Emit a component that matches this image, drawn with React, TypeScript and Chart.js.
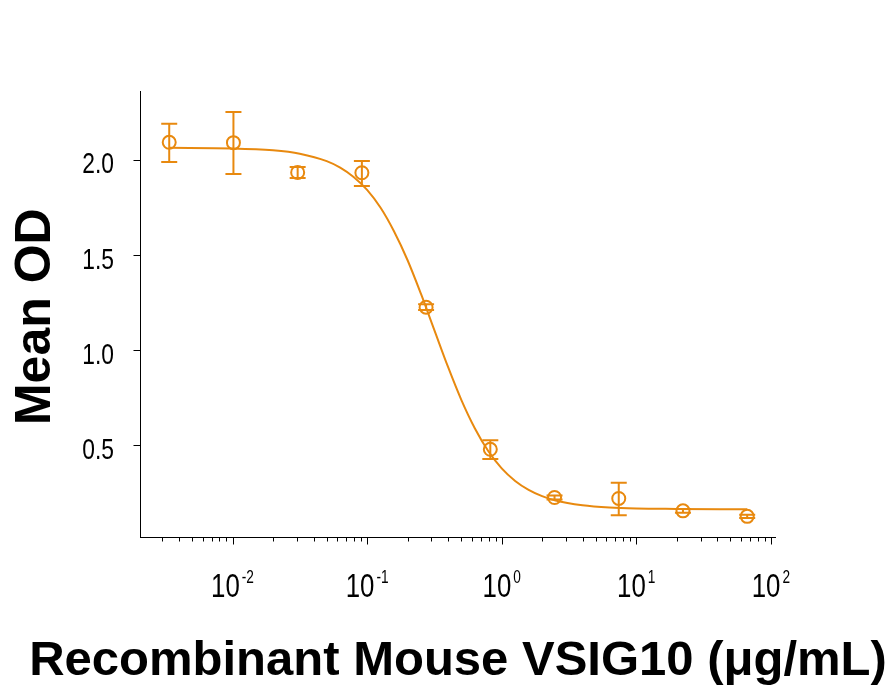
import React, { useEffect, useRef } from "react";
import { Chart, registerables } from "chart.js";

Chart.register(...registerables);

// ---- data ----
const doses = [0.003387, 0.01016, 0.03048, 0.09145, 0.2743, 0.823, 2.469, 7.407, 22.22, 66.67];
const meanOD = [2.093, 2.091, 1.935, 1.933, 1.227, 0.481, 0.228, 0.223, 0.158, 0.129];
const errHigh = [2.19, 2.252, 1.963, 1.995, 1.242, 0.529, 0.238, 0.305, 0.168, 0.137];
const errLow = [1.99, 1.926, 1.905, 1.863, 1.212, 0.43, 0.218, 0.135, 0.148, 0.121];

// fitted curve
const curveX = [0.00339, 0.01, 0.02, 0.0316, 0.0501, 0.0631, 0.0794, 0.1, 0.126, 0.158, 0.1995, 0.251, 0.316, 0.398, 0.501, 0.631, 0.794, 1.0, 1.259, 1.585, 1.995, 2.512, 3.981, 6.31, 10, 19.95, 66.67];
const curveY = [2.064, 2.061, 2.051, 2.033, 1.994, 1.96, 1.911, 1.843, 1.749, 1.627, 1.475, 1.298, 1.107, 0.916, 0.741, 0.592, 0.472, 0.381, 0.315, 0.268, 0.235, 0.212, 0.187, 0.175, 0.17, 0.168, 0.166];

// axes
const xMin = 0.002072;
const xMax = 108.2;
const yMin = 0.018;
const yMax = 2.3586;
const xMajorTicks = [0.01, 0.1, 1, 10, 100];
const xTickBase = "10";
const xTickExponents = ["-2", "-1", "0", "1", "2"];
const xMinorDecades = [0.001, 0.01, 0.1, 1, 10];
const xMinorMultipliers = [2, 3, 4, 5, 6, 7, 8, 9];
const yTickValues = [0.5, 1.0, 1.5, 2.0];
const yTickLabels = ["0.5", "1.0", "1.5", "2.0"];
const xAxisTitle = "Recombinant Mouse VSIG10 (μg/mL)";
const yAxisTitle = "Mean OD";

const ORANGE = "#E8890F";
const TICKFONT = "'Liberation Sans', Arial, sans-serif";
const BOLD = "'Liberation Sans', Arial, sans-serif";
const SQUEEZE = 0.76;

const errorBarPlugin = {
  id: "errorBars",
  afterDatasetsDraw(chart: any) {
    const { ctx, scales } = chart;
    const x = scales.x;
    const y = scales.y;
    ctx.save();
    ctx.strokeStyle = ORANGE;
    ctx.lineWidth = 2;
    doses.forEach((d, i) => {
      const px = x.getPixelForValue(d);
      const top = y.getPixelForValue(errHigh[i]);
      const bot = y.getPixelForValue(errLow[i]);
      ctx.beginPath();
      ctx.moveTo(px, top);
      ctx.lineTo(px, bot);
      ctx.moveTo(px - 8, top);
      ctx.lineTo(px + 8, top);
      ctx.moveTo(px - 8, bot);
      ctx.lineTo(px + 8, bot);
      ctx.stroke();
    });
    ctx.restore();
  },
};

function squeezedText(ctx: any, text: string, x: number, y: number, align: string) {
  ctx.save();
  ctx.translate(x, y);
  ctx.scale(SQUEEZE, 1);
  ctx.textAlign = align;
  ctx.fillText(text, 0, 0);
  ctx.restore();
}

const axisDecorPlugin = {
  id: "axisDecor",
  afterDraw(chart: any) {
    const { ctx, scales, chartArea } = chart;
    const x = scales.x;
    const y = scales.y;
    const bottom = chartArea.bottom;
    ctx.save();
    ctx.strokeStyle = "#000";
    ctx.lineWidth = 1;
    // minor ticks
    ctx.beginPath();
    xMinorDecades.forEach((dec) => {
      xMinorMultipliers.forEach((m) => {
        const v = dec * m;
        if (v < xMin || v > xMax) return;
        const px = Math.round(x.getPixelForValue(v)) + 0.5;
        ctx.moveTo(px, bottom);
        ctx.lineTo(px, bottom + 4);
      });
    });
    // major ticks
    xMajorTicks.forEach((v) => {
      const px = Math.round(x.getPixelForValue(v)) + 0.5;
      ctx.moveTo(px, bottom);
      ctx.lineTo(px, bottom + 7);
    });
    ctx.stroke();

    ctx.fillStyle = "#000";
    ctx.textBaseline = "alphabetic";

    // y tick labels
    ctx.font = `30px ${TICKFONT}`;
    yTickValues.forEach((v, i) => {
      const py = y.getPixelForValue(v);
      squeezedText(ctx, yTickLabels[i], 114, py + 13.3, "right");
    });

    // x major tick labels: 10 with superscript exponent
    const baseFont = `34px ${TICKFONT}`;
    const expFont = `18px ${TICKFONT}`;
    xMajorTicks.forEach((v, i) => {
      const px = x.getPixelForValue(v);
      ctx.font = baseFont;
      const wb = ctx.measureText(xTickBase).width * SQUEEZE;
      ctx.font = expFont;
      const we = ctx.measureText(xTickExponents[i]).width * SQUEEZE;
      const gap = 2;
      const start = px - (wb + gap + we) / 2;
      ctx.font = baseFont;
      squeezedText(ctx, xTickBase, start, 597.3, "left");
      ctx.font = expFont;
      squeezedText(ctx, xTickExponents[i], start + wb + gap, 583.3, "left");
    });

    // axis titles
    ctx.font = `bold 49px ${BOLD}`;
    ctx.textAlign = "center";
    ctx.fillText(xAxisTitle, (chartArea.left + chartArea.right) / 2, 675);

    ctx.save();
    ctx.translate(50, 316.7);
    ctx.rotate(-Math.PI / 2);
    ctx.font = `bold 50px ${BOLD}`;
    ctx.textAlign = "center";
    ctx.fillText(yAxisTitle, 0, 0);
    ctx.restore();

    ctx.restore();
  },
};

export default function App() {
  const canvasRef = useRef<HTMLCanvasElement | null>(null);

  useEffect(() => {
    if (!canvasRef.current) return;
    const chart = new Chart(canvasRef.current, {
      type: "scatter",
      data: {
        datasets: [
          {
            label: "Fit",
            data: curveX.map((cx, i) => ({ x: cx, y: curveY[i] })),
            showLine: true,
            borderColor: ORANGE,
            borderWidth: 2,
            pointRadius: 0,
            cubicInterpolationMode: "monotone",
            fill: false,
          } as any,
          {
            label: "Mean OD",
            data: doses.map((d, i) => ({ x: d, y: meanOD[i] })),
            showLine: false,
            pointStyle: "circle",
            pointRadius: 6.5,
            pointBorderWidth: 2,
            borderColor: ORANGE,
            pointBorderColor: ORANGE,
            backgroundColor: "rgba(0,0,0,0)",
            pointBackgroundColor: "rgba(0,0,0,0)",
          } as any,
        ],
      },
      options: {
        animation: false,
        responsive: false,
        events: [],
        layout: { padding: { top: 91.7, right: 120.5, bottom: 0, left: 0 } },
        plugins: {
          legend: { display: false },
          title: { display: false },
          tooltip: { enabled: false },
        },
        scales: {
          x: {
            type: "logarithmic",
            min: xMin,
            max: xMax,
            position: "bottom",
            grid: { display: false },
            border: { display: true, color: "#000", width: 1 },
            ticks: { display: false },
            afterFit: (scale: any) => {
              scale.height = 152.5;
            },
          },
          y: {
            type: "linear",
            min: yMin,
            max: yMax,
            position: "left",
            afterBuildTicks: (scale: any) => {
              scale.ticks = yTickValues.map((v) => ({ value: v }));
            },
            afterFit: (scale: any) => {
              scale.width = 140.5;
            },
            grid: {
              display: true,
              drawOnChartArea: false,
              drawTicks: true,
              tickLength: 7,
              tickColor: "#000",
              tickWidth: 1,
            },
            border: { display: true, color: "#000", width: 1 },
            ticks: { display: false },
          },
        },
      },
      plugins: [errorBarPlugin, axisDecorPlugin],
    });
    return () => chart.destroy();
  }, []);

  return (
    <div style={{ position: "absolute", left: 0, top: 0, width: 896, height: 690, background: "#fff" }}>
      <canvas ref={canvasRef} width={896} height={690} style={{ display: "block", width: 896, height: 690 }} />
    </div>
  );
}
